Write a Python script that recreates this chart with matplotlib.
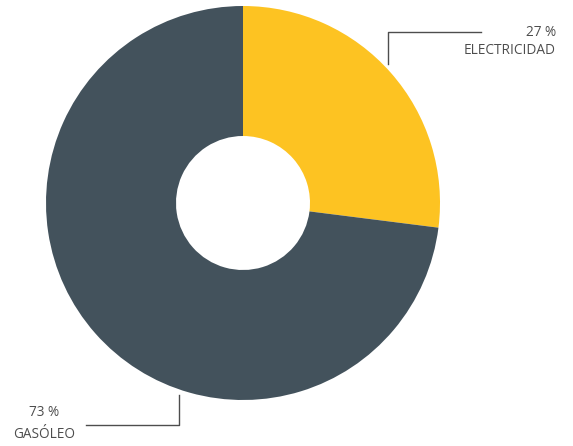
import matplotlib
matplotlib.use("Agg")
import matplotlib.pyplot as plt

categories = ["ELECTRICIDAD", "GASÓLEO"]
values = [27, 73]
colors = ["#fdc322", "#43525c"]

W, H = 573, 446
fig = plt.figure(figsize=(W / 100, H / 100), dpi=100)
ax = fig.add_axes([0, 0, 1, 1])

cx, cy = 243, H - 203
R, r = 197, 67
ax.pie(values, colors=colors, startangle=90, counterclock=False,
       center=(cx, cy), radius=R, wedgeprops=dict(width=R - r, linewidth=0),
       frame=True)
ax.set_xlim(0, W)
ax.set_ylim(0, H)
ax.set_aspect("equal")
ax.axis("off")

txt = dict(color="#4d4d4d", fontsize=9.8, family="Open Sans", fontweight="normal")
lc = "#4d4d4d"
# Electricidad leader
ax.plot([388, 388, 481], [H - 64, H - 32, H - 32], color=lc, lw=1)
ax.text(556, H - 32, f"{values[0]} %", ha="right", va="center", **txt)
ax.text(556, H - 50, categories[0], ha="right", va="center", **txt)
# Gasoleo leader
ax.plot([179, 179, 86], [H - 395, H - 425, H - 425], color=lc, lw=1)
ax.text(44, H - 413, f"{values[1]} %", ha="center", va="center", **txt)
ax.text(44, H - 434, categories[1], ha="center", va="center", **txt)

fig.savefig("out.png", dpi=100)
